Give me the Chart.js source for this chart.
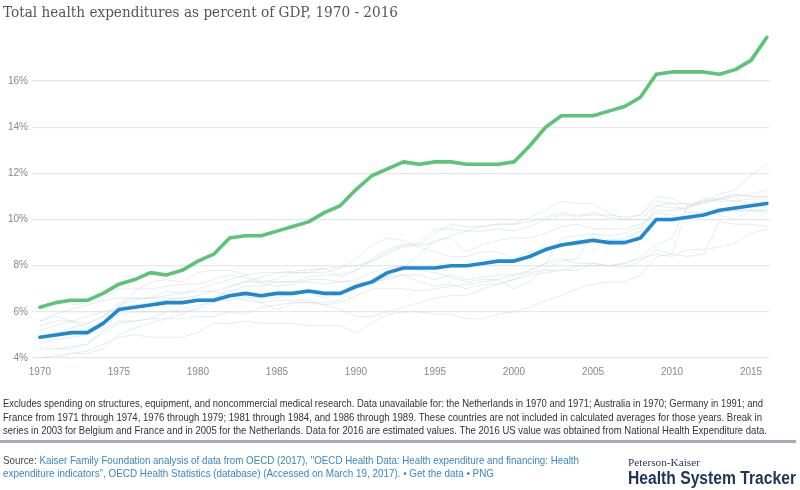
<!DOCTYPE html>
<html>
<head>
<meta charset="utf-8">
<script src="https://cdn.jsdelivr.net/npm/chart.js@4/dist/chart.umd.min.js"></script>
<style>
  html, body { margin:0; padding:0; background:#fff; }
  #wrap { position:relative; width:800px; height:490px; overflow:hidden; }
  #c { position:absolute; left:0; top:0; }
  .t { position:absolute; white-space:nowrap; transform-origin:left center; }
  #title { left:3px; top:3px; font-family:"DejaVu Serif", serif; font-size:15px; color:#555; }
  .fn { left:3px; font-family:"Liberation Sans", Arial, sans-serif; font-size:11px; color:#333; }
  .src { left:3px; font-family:"Liberation Sans", Arial, sans-serif; font-size:11px; color:#3a86c6; }
  .src b { font-weight:normal; color:#444; }
  #bar { position:absolute; left:0; top:440px; width:796px; height:3px; background:#a3adbb; }
  #pk1 { left:628px; top:457px; font-family:"Liberation Serif", serif; font-size:10px; color:#1e3557; }
  #pk2 { left:628px; top:468px; font-family:"Liberation Sans", Arial, sans-serif; font-weight:bold; font-size:18px; color:#1e3557; }
</style>
</head>
<body>
<div id="wrap">
  <canvas id="c" width="800" height="490"></canvas>
  <div id="title" class="t">Total health expenditures as percent of GDP, 1970 - 2016</div>
  <div class="t fn" id="f1" style="top:397px">Excludes spending on structures, equipment, and noncommercial medical research. Data unavailable for: the Netherlands in 1970 and 1971; Australia in 1970; Germany in 1991; and</div>
  <div class="t fn" id="f2" style="top:411px">France from 1971 through 1974, 1976 through 1979; 1981 through 1984, and 1986 through 1989. These countries are not included in calculated averages for those years. Break in</div>
  <div class="t fn" id="f3" style="top:424px">series in 2003 for Belgium and France and in 2005 for the Netherlands. Data for 2016 are estimated values. The 2016 US value was obtained from National Health Expenditure data.</div>
  <div id="bar"></div>
  <div class="t src" id="s1" style="top:454px"><b>Source:</b> Kaiser Family Foundation analysis of data from OECD (2017), "OECD Health Data: Health expenditure and financing: Health</div>
  <div class="t src" id="s2" style="top:467px">expenditure indicators", OECD Health Statistics (database) (Accessed on March 19, 2017). • Get the data • PNG</div>
  <div class="t" id="pk1">Peterson-Kaiser</div>
  <div class="t" id="pk2">Health System Tracker</div>
</div>
<script>
const years = [1970,1971,1972,1973,1974,1975,1976,1977,1978,1979,1980,1981,1982,1983,1984,1985,1986,1987,1988,1989,1990,1991,1992,1993,1994,1995,1996,1997,1998,1999,2000,2001,2002,2003,2004,2005,2006,2007,2008,2009,2010,2011,2012,2013,2014,2015,2016];
const xTickYears = [1970,1975,1980,1985,1990,1995,2000,2005,2010,2015];
const yTickValues = [4,6,8,10,12,14,16];

const unitedStates = [6.2,6.4,6.5,6.5,6.8,7.2,7.4,7.7,7.6,7.8,8.2,8.5,9.2,9.3,9.3,9.5,9.7,9.9,10.3,10.6,11.3,11.9,12.2,12.5,12.4,12.5,12.5,12.4,12.4,12.4,12.5,13.2,14.0,14.5,14.5,14.5,14.7,14.9,15.3,16.3,16.4,16.4,16.4,16.3,16.5,16.9,17.9];
const comparableAverage = [4.9,5.0,5.1,5.1,5.5,6.1,6.2,6.3,6.4,6.4,6.5,6.5,6.7,6.8,6.7,6.8,6.8,6.9,6.8,6.8,7.1,7.3,7.7,7.9,7.9,7.9,8.0,8.0,8.1,8.2,8.2,8.4,8.7,8.9,9.0,9.1,9.0,9.0,9.2,10.0,10.0,10.1,10.2,10.4,10.5,10.6,10.7];

const switzerland = [4.9,5.1,5.3,5.5,5.8,6.4,6.6,6.6,6.6,6.6,6.6,6.6,6.9,7.1,7.1,7.3,7.3,7.5,7.6,7.6,7.8,8.3,8.7,8.9,8.9,9.0,9.3,9.5,9.7,9.8,9.8,10.1,10.4,10.8,10.7,10.7,10.3,10.0,10.0,10.6,10.5,10.5,10.8,11.1,11.3,11.9,12.4];
const germany = [5.6,5.9,6.1,6.3,6.5,6.6,6.6,6.6,6.7,6.8,7.0,7.2,7.4,7.6,7.7,7.7,7.7,7.7,7.9,7.5,7.8,null,8.6,8.8,8.9,9.4,9.8,9.7,9.7,9.8,9.8,9.9,10.1,10.3,10.1,10.3,10.1,10.0,10.2,11.0,10.9,10.6,10.7,10.9,11.0,11.1,11.3];
const france = [5.2,null,null,null,null,6.2,null,null,null,null,6.7,null,null,null,null,7.7,null,null,null,null,8.0,8.2,8.5,8.9,9.0,9.6,9.6,9.5,9.5,9.6,9.5,9.7,10.0,10.2,10.2,10.2,10.2,10.1,10.2,10.8,10.7,10.7,10.8,10.9,11.1,11.0,11.0];
const netherlands = [null,null,6.3,6.4,6.6,7.0,7.0,7.0,7.1,7.2,7.2,7.4,7.6,7.5,7.2,7.1,7.2,7.4,7.4,7.3,7.4,7.7,7.9,8.0,7.8,7.7,7.5,7.3,7.4,7.4,7.0,7.3,7.9,8.2,8.3,9.4,9.3,9.4,9.7,10.4,10.4,10.5,10.9,10.9,10.8,10.7,10.5];
const belgium = [3.9,4.0,4.2,4.2,4.4,5.0,5.3,5.5,5.7,5.9,6.2,6.5,6.5,6.6,6.6,6.6,6.8,6.8,6.6,6.8,7.0,7.3,7.4,7.6,7.6,7.4,7.6,7.4,7.5,7.6,7.6,7.8,8.1,9.2,9.3,9.4,9.1,9.1,9.5,10.0,9.9,10.1,10.2,10.4,10.4,10.4,10.4];
const austria = [4.6,4.8,4.9,5.0,5.4,6.3,6.5,6.6,6.9,6.8,6.9,6.9,6.7,6.5,6.4,6.1,6.4,6.4,6.4,6.5,7.0,7.2,7.5,7.9,8.5,9.1,9.2,8.6,8.9,9.1,9.2,9.2,9.4,9.7,9.8,9.6,9.6,9.6,9.8,10.3,10.2,10.0,10.2,10.3,10.4,10.4,10.4];
const canada = [5.6,5.8,5.6,5.3,5.3,5.9,6.0,6.0,6.0,6.0,6.1,6.4,7.1,7.3,7.3,7.4,7.7,7.7,7.7,7.9,8.3,8.9,9.2,9.1,8.8,8.6,8.4,8.4,8.6,8.6,8.3,8.6,8.8,8.9,8.9,9.0,9.1,9.2,9.5,10.6,10.7,10.3,10.3,10.2,10.0,10.4,10.3];
const sweden = [5.4,5.6,5.6,5.5,5.8,6.2,6.9,7.3,7.4,7.3,7.7,7.8,7.8,7.6,7.3,7.3,7.3,7.3,7.2,7.3,7.3,7.2,7.5,7.6,7.3,7.1,7.2,7.0,7.2,7.2,7.4,7.8,8.1,8.3,8.1,8.1,8.0,7.9,8.2,8.7,8.5,10.6,10.7,10.9,11.1,11.0,11.0];
const japan = [4.4,4.4,4.5,4.6,5.1,5.5,5.6,5.7,6.0,6.1,6.3,6.4,6.6,6.7,6.4,6.5,6.5,6.5,6.3,6.1,5.8,5.8,6.0,6.2,6.4,6.6,6.7,6.7,7.0,7.2,7.4,7.6,7.7,7.8,7.8,8.1,8.0,8.1,8.4,8.9,9.2,10.6,10.8,10.8,10.8,10.9,10.9];
const unitedKingdom = [4.0,4.1,4.2,4.3,4.6,4.9,5.0,4.9,4.9,4.9,5.1,5.5,5.5,5.6,5.5,5.5,5.5,5.4,5.4,5.4,5.1,5.5,5.9,6.0,6.0,5.9,5.9,5.7,5.7,5.9,6.0,6.2,6.5,6.7,7.0,7.2,7.3,7.3,7.6,8.4,8.5,8.4,8.5,9.9,9.8,9.8,9.7];
const australia = [null,4.4,4.4,4.6,5.2,5.6,5.6,5.7,5.7,5.7,5.8,5.8,6.0,5.9,6.2,6.3,6.4,6.4,6.3,6.4,6.7,7.0,7.0,7.0,6.9,7.0,7.1,7.2,7.3,7.4,7.6,7.7,7.8,7.8,8.0,8.0,8.0,8.1,8.3,8.5,8.4,8.7,8.7,8.8,9.0,9.4,9.6];

const faintSeries = {
  'Switzerland': switzerland, 'Germany': germany, 'France': france, 'Netherlands': netherlands,
  'Belgium': belgium, 'Austria': austria, 'Canada': canada, 'Sweden': sweden,
  'Japan': japan, 'United Kingdom': unitedKingdom, 'Australia': australia
};

const toPts = arr => years.map((y, i) => ({x: y, y: arr[i]}));

const datasets = [
  { label: 'United States', data: toPts(unitedStates), borderColor: '#5cc377', borderWidth: 3.6, order: 0 },
  { label: 'Comparable Country Average', data: toPts(comparableAverage), borderColor: '#1f88d1', borderWidth: 3.6, order: 1 }
];
Object.keys(faintSeries).forEach(name => {
  datasets.push({ label: name, data: toPts(faintSeries[name]), borderColor: 'rgba(205,217,230,0.5)', borderWidth: 1, order: 2 });
});
datasets.forEach(d => { d.pointRadius = 0; d.tension = 0; d.spanGaps = true; d.borderJoinStyle = 'round'; d.borderCapStyle = 'round'; d.fill = false; });

const tickFont = { family: '"Liberation Sans", Arial, sans-serif', size: 10 };

new Chart(document.getElementById('c'), {
  type: 'line',
  data: { datasets },
  options: {
    responsive: false,
    animation: false,
    events: [],
    layout: { padding: { top: 35, right: 30, bottom: 102, left: 0 } },
    plugins: { legend: { display: false }, tooltip: { enabled: false } },
    scales: {
      x: {
        type: 'linear', min: 1969.5, max: 2016.2,
        afterBuildTicks: s => { s.ticks = xTickYears.map(v => ({ value: v })); },
        afterFit: s => { s.height = 30; },
        grid: { display: false, drawTicks: false },
        border: { display: false },
        ticks: { color: '#888', font: tickFont, padding: 8, maxRotation: 0, autoSkip: false, callback: v => String(v) }
      },
      y: {
        min: 4, max: 18,
        afterBuildTicks: s => { s.ticks = yTickValues.map(v => ({ value: v })); },
        afterFit: s => { s.width = 32; },
        grid: { color: '#e6e8eb', lineWidth: 1.3, drawTicks: false },
        border: { display: false },
        ticks: { color: '#888', font: tickFont, padding: 4, callback: v => v + '%' }
      }
    }
  }
});

function fit(id, target) {
  const el = document.getElementById(id);
  const w = el.getBoundingClientRect().width;
  el.style.transform = 'scaleX(' + (target / w) + ')';
}
fit('title', 395);
fit('f1', 760);
fit('f2', 759);
fit('f3', 764);
fit('s1', 576);
fit('s2', 491);
fit('pk1', 72);
fit('pk2', 168);
</script>
</body>
</html>
